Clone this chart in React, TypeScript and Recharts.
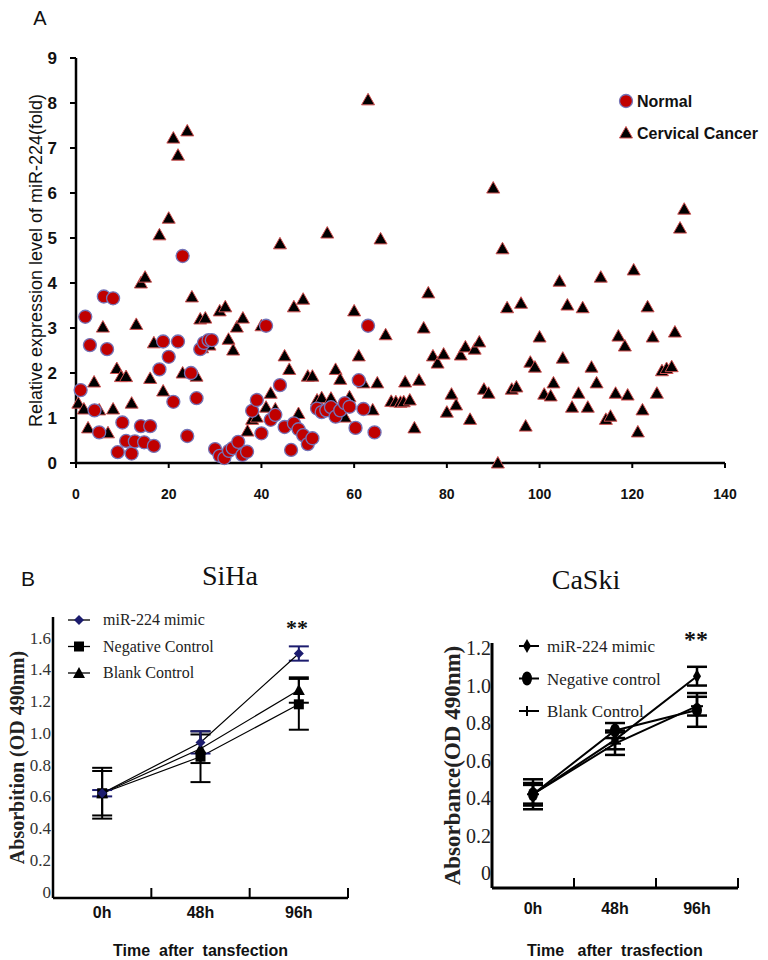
import React from "react";
import { ScatterChart, Scatter, XAxis, YAxis, Legend, LineChart, Line, ErrorBar } from "recharts";

// panel A: relative miR-224 expression, [sample index, fold]
const NORMAL: [number, number][] = [
  [1, 1.62], [2, 3.25], [3, 2.62], [4, 1.17], [5, 0.68], [6, 3.7], [6.7, 2.53], [8, 3.66],
  [9, 0.24], [10, 0.9], [10.8, 0.49], [12, 0.21], [12.7, 0.48], [14, 0.82], [14.7, 0.46],
  [16, 0.82], [16.8, 0.38], [18, 2.08], [18.8, 2.7], [20, 2.36], [21, 1.36], [22, 2.7],
  [23, 4.6], [24, 0.6], [24.8, 2.0], [26, 1.44], [26.8, 2.53], [27.6, 2.67], [28.6, 2.73],
  [29.3, 2.73], [30, 0.31], [31, 0.16], [32, 0.11], [33, 0.27], [33.8, 0.33], [35, 0.47],
  [35.9, 0.18], [36.9, 0.25], [38, 1.16], [39, 1.4], [40, 0.66], [41, 3.05], [42, 0.96],
  [43, 1.07], [44, 1.73], [45, 0.8], [46.4, 0.29], [47, 0.88], [48, 0.75], [49, 0.62],
  [50, 0.42], [51, 0.55], [52, 1.21], [53, 1.13], [54, 1.17], [55, 1.24], [56, 1.03],
  [57, 1.17], [58, 1.33], [59, 1.25], [60.3, 0.78], [61, 1.84], [62, 1.2], [63, 3.05], [64.4, 0.68],
];

const CANCER: [number, number][] = [
  [0.5, 1.33], [1.7, 1.2], [2.6, 0.78], [3.9, 1.8], [5, 1.18], [5.8, 3.02], [6.9, 0.67], [8, 1.2],
  [8.8, 2.1], [9.7, 1.92], [10.8, 1.92], [12, 1.33], [13, 3.08], [14, 4.0], [14.9, 4.13], [16, 1.88],
  [16.8, 2.67], [18, 5.07], [18.8, 1.6], [20, 5.44], [21, 7.22], [22, 6.84], [24, 7.38], [23, 2.0],
  [25, 3.69], [26, 1.93], [26.8, 3.2], [27.9, 3.22], [28.8, 2.62], [27.2, 2.56], [31, 3.38],
  [32.2, 3.47], [32.9, 2.75], [33.9, 2.51], [34.7, 3.02], [36, 3.22], [37, 0.71], [38, 0.97],
  [39, 1.02], [40, 3.05], [41, 1.24], [42, 1.55], [43, 1.2], [44, 4.87], [45, 2.38], [46, 2.08],
  [47, 3.47], [48, 1.1], [49, 3.64], [50, 1.93], [51, 1.93], [52, 1.4], [53, 1.45], [54.2, 5.11],
  [55, 1.44], [56, 2.08], [57, 1.86], [58, 1.02], [59, 1.47], [60, 3.38], [61, 2.38], [62, 1.78],
  [63, 8.07], [64, 1.18], [65, 1.78], [65.7, 4.98], [66.8, 2.85], [68, 1.37], [69, 1.36],
  [70, 1.35], [70.7, 1.36], [71, 1.8], [72, 1.4], [73, 0.78], [74, 1.84], [75, 3.0], [76, 3.78],
  [77, 2.38], [78, 2.22], [79.3, 2.42], [80, 1.13], [81, 1.53], [82, 1.29], [83, 2.4], [84, 2.58],
  [85, 0.97], [86, 2.53], [87, 2.69], [88, 1.64], [89, 1.55], [90, 6.11], [91, 0.0], [92, 4.76],
  [93, 3.45], [94, 1.64], [95, 1.69], [96, 3.55], [97, 0.82], [98, 2.24], [99, 2.13], [100, 2.8],
  [101, 1.53], [102.4, 1.49], [103, 1.78], [104.3, 4.04], [105, 2.33], [106, 3.51], [107, 1.24],
  [108.4, 1.55], [109.3, 3.45], [110.4, 1.24], [111.2, 2.13], [112.3, 1.78], [113.2, 4.13],
  [114.3, 0.97], [115.3, 1.04], [116.4, 1.55], [117, 2.82], [118.4, 2.6], [119, 1.51],
  [120.3, 4.29], [121.2, 0.69], [122.2, 1.18], [123.3, 3.47], [124.4, 2.8], [125.3, 1.55],
  [126.4, 2.05], [127.4, 2.1], [128.5, 2.14], [129.2, 2.91], [130.3, 5.22], [131.2, 5.64],
];

const A_X_TICKS = [0, 20, 40, 60, 80, 100, 120, 140];
const A_Y_TICKS = [0, 1, 2, 3, 4, 5, 6, 7, 8, 9];

// panel B: proliferation (OD 490nm)
const TIMES = ["0h", "48h", "96h"];
const SERIES_SIHA = ["miR-224 mimic", "Negative Control", "Blank Control"];
const SERIES_CASKI = ["miR-224 mimic", "Negative control", "Blank Control"];

const SIHA_MIMIC = [0.62, 0.94, 1.5];
const SIHA_MIMIC_ERR = [0.02, 0.07, 0.045];
const SIHA_NEG = [0.62, 0.85, 1.18];
const SIHA_NEG_ERR = [0.16, 0.16, 0.16];
const SIHA_BLANK = [0.62, 0.9, 1.27];
const SIHA_BLANK_ERR = [0.14, 0.09, 0.08];

const CASKI_MIMIC = [0.42, 0.71, 1.05];
const CASKI_MIMIC_ERR = [0.05, 0.05, 0.05];
const CASKI_NEG = [0.42, 0.76, 0.87];
const CASKI_NEG_ERR = [0.08, 0.04, 0.09];
const CASKI_BLANK = [0.42, 0.69, 0.89];
const CASKI_BLANK_ERR = [0.06, 0.06, 0.05];

const B_Y_TICKS_SIHA = [0, 0.2, 0.4, 0.6, 0.8, 1.0, 1.2, 1.4, 1.6];
const B_Y_TICKS_CASKI = [0, 0.2, 0.4, 0.6, 0.8, 1.0, 1.2];
const B_X_TICKS = [0.5, 1, 1.5, 2, 2.5, 3];

const SANS = "'Liberation Sans', Arial, sans-serif";
const SERIF = "'Liberation Serif', 'Times New Roman', serif";

const normalData = NORMAL.map(([x, y]) => ({ x, y }));
const cancerData = CANCER.map(([x, y]) => ({ x, y }));

const sihaData = TIMES.map((t, i) => ({
  x: i + 0.5,
  time: t,
  mimic: SIHA_MIMIC[i], mimicErr: SIHA_MIMIC_ERR[i],
  neg: SIHA_NEG[i], negErr: SIHA_NEG_ERR[i],
  blank: SIHA_BLANK[i], blankErr: SIHA_BLANK_ERR[i],
}));

const caskiData = TIMES.map((t, i) => ({
  x: i + 0.5,
  time: t,
  mimic: CASKI_MIMIC[i], mimicErr: CASKI_MIMIC_ERR[i],
  neg: CASKI_NEG[i], negErr: CASKI_NEG_ERR[i],
  blank: CASKI_BLANK[i], blankErr: CASKI_BLANK_ERR[i],
}));

// ---- marker shapes ----
const RedCircle = ({ cx, cy }: any) => (
  <circle cx={cx} cy={cy} r={6.5} fill="#c00000" stroke="#7474b8" strokeWidth={1.3} />
);
const BlackTriangle = ({ cx, cy }: any) => (
  <path d={`M${cx},${cy - 6.5} L${cx + 6.5},${cy + 5} L${cx - 6.5},${cy + 5} Z`} fill="#000" stroke="#d05050" strokeWidth={1} />
);

const Diamond = ({ cx, cy, w = 5, h = 5, fill = "#000" }: any) => (
  <path d={`M${cx},${cy - h} L${cx + w},${cy} L${cx},${cy + h} L${cx - w},${cy} Z`} fill={fill} />
);
const Square = ({ cx, cy }: any) => <rect x={cx - 5} y={cy - 5} width={10} height={10} fill="#000" />;
const Tri = ({ cx, cy }: any) => (
  <path d={`M${cx},${cy - 6} L${cx + 6},${cy + 5} L${cx - 6},${cy + 5} Z`} fill="#000" />
);
const Oval = ({ cx, cy }: any) => <ellipse cx={cx} cy={cy} rx={5} ry={7} fill="#000" />;
const Plus = ({ cx, cy }: any) => (
  <g stroke="#000" strokeWidth={2}>
    <line x1={cx - 6} x2={cx + 6} y1={cy} y2={cy} />
    <line x1={cx} x2={cx} y1={cy - 5} y2={cy + 5} />
  </g>
);

const SIHA_MARKERS = [
  (cx: number, cy: number) => <Diamond cx={cx} cy={cy} w={5} h={5} fill="#1c1c6e" />,
  (cx: number, cy: number) => <Square cx={cx} cy={cy} />,
  (cx: number, cy: number) => <Tri cx={cx} cy={cy} />,
];
const CASKI_MARKERS = [
  (cx: number, cy: number) => <Diamond cx={cx} cy={cy} w={4} h={7} />,
  (cx: number, cy: number) => <Oval cx={cx} cy={cy} />,
  (cx: number, cy: number) => <Plus cx={cx} cy={cy} />,
];

// x axis of panel B: tick marks between time points, labels at the centres
const makeTimeTick = (labelDy: number) => (props: any) => {
  const { x, y, payload } = props;
  const v = payload.value;
  if (Number.isInteger(v)) {
    return <line x1={x} x2={x} y1={y} y2={y - 10} stroke="#000" strokeWidth={2} />;
  }
  return (
    <text x={x} y={y + labelDy} textAnchor="middle" fontFamily={SANS} fontWeight="bold" fontSize={16} fill="#111">
      {TIMES[Math.floor(v)]}
    </text>
  );
};

const ScatterLegend = () => (
  <svg width={150} height={52}>
    <RedCircle cx={8} cy={9} />
    <text x={19} y={15} fontFamily={SANS} fontWeight="bold" fontSize={16} fill="#111">Normal</text>
    <BlackTriangle cx={8} cy={41} />
    <text x={19} y={47} fontFamily={SANS} fontWeight="bold" fontSize={16} fill="#111">Cervical Cancer</text>
  </svg>
);

const SihaLegend = () => (
  <svg width={200} height={80}>
    {SERIES_SIHA.map((name, i) => (
      <g key={name}>
        <line x1={0} x2={22} y1={10 + i * 26.5} y2={10 + i * 26.5} stroke="#000" strokeWidth={1.3} />
        {SIHA_MARKERS[i](11, 10 + i * 26.5)}
        <text x={35} y={15 + i * 26.5} fontFamily={SERIF} fontSize={16} fill="#222">{name}</text>
      </g>
    ))}
  </svg>
);

const CaskiLegend = () => (
  <svg width={220} height={90}>
    {SERIES_CASKI.map((name, i) => (
      <g key={name}>
        <line x1={0} x2={20} y1={10 + i * 32.5} y2={10 + i * 32.5} stroke="#000" strokeWidth={2} />
        {CASKI_MARKERS[i](8, 10 + i * 32.5)}
        <text x={28} y={16 + i * 32.5} fontFamily={SERIF} fontSize={17} fill="#222">{name}</text>
      </g>
    ))}
  </svg>
);

const Txt = ({ x, y, size, family = SANS, weight = "normal", children }: any) => (
  <div
    style={{
      position: "absolute", left: x, top: y, transform: "translate(-50%, -50%)",
      fontFamily: family, fontSize: size, fontWeight: weight, lineHeight: 1, whiteSpace: "pre", color: "#111",
    }}
  >
    {children}
  </div>
);

export default function App() {
  return (
    <div style={{ position: "absolute", left: 0, top: 0, width: 768, height: 960, background: "#fff", overflow: "hidden" }}>
      <Txt x={40} y={18} size={20}>A</Txt>

      <div style={{ position: "absolute", left: 0, top: 0 }}>
        <ScatterChart width={768} height={520} margin={{ top: 58, right: 43, bottom: 27, left: 36 }}>
          <XAxis
            type="number" dataKey="x" domain={[0, 140]} ticks={A_X_TICKS} height={30}
            axisLine={{ stroke: "#000", strokeWidth: 2.5 }} tickLine={{ stroke: "#000", strokeWidth: 2 }}
            tickSize={5} tickMargin={21}
            tick={{ fill: "#111", fontSize: 14, fontWeight: "bold", fontFamily: SANS }}
          />
          <YAxis
            type="number" dataKey="y" domain={[0, 9]} ticks={A_Y_TICKS} width={40}
            axisLine={{ stroke: "#000", strokeWidth: 2.5 }} tickLine={{ stroke: "#000", strokeWidth: 2 }}
            tickSize={6} tickMargin={13}
            tick={{ fill: "#111", fontSize: 17, fontWeight: "bold", fontFamily: SANS }}
            label={{
              value: "Relative expression level of miR-224(fold)", angle: -90, position: "insideLeft", offset: 0,
              style: { textAnchor: "middle", fontFamily: SANS, fontSize: 18, fill: "#111" },
            }}
          />
          <Legend
            layout="horizontal" verticalAlign="middle" align="center"
            wrapperStyle={{ left: 618, top: 92, width: 150 }}
            content={() => <ScatterLegend />}
          />
          <Scatter name="Cervical Cancer" data={cancerData} shape={(p: any) => <BlackTriangle cx={p.cx} cy={p.cy} />} isAnimationActive={false} />
          <Scatter name="Normal" data={normalData} shape={(p: any) => <RedCircle cx={p.cx} cy={p.cy} />} isAnimationActive={false} />
        </ScatterChart>
      </div>

      <Txt x={28} y={578} size={21}>B</Txt>
      <Txt x={230} y={576} size={28} family={SERIF}>SiHa</Txt>
      <Txt x={586} y={580} size={28} family={SERIF}>CaSki</Txt>
      <Txt x={297} y={628} size={22} family={SERIF} weight="bold">**</Txt>
      <Txt x={696} y={639} size={24} family={SERIF} weight="bold">**</Txt>

      <div style={{ position: "absolute", left: 0, top: 560 }}>
        <LineChart width={384} height={400} data={sihaData} margin={{ top: 57, right: 36, bottom: 0, left: 13 }}>
          <XAxis
            type="number" dataKey="x" domain={[0, 3]} ticks={B_X_TICKS} height={62}
            axisLine={{ stroke: "#000", strokeWidth: 2.5 }} tickLine={false} tickSize={0} tickMargin={0}
            tick={makeTimeTick(20)}
            label={{
              value: "Time\u00a0 after\u00a0 tansfection", position: "insideBottom", offset: 4,
              style: { fontFamily: SANS, fontWeight: "bold", fontSize: 16, fill: "#111" },
            }}
          />
          <YAxis
            type="number" domain={[-0.04, 1.73]} ticks={B_Y_TICKS_SIHA} width={40}
            axisLine={{ stroke: "#000", strokeWidth: 2.5 }} tickLine={false} tickSize={0} tickMargin={2}
            tickFormatter={(v: number) => (v === 0 ? "0" : v.toFixed(1))}
            tick={{ fill: "#333", fontSize: 17, fontFamily: SERIF }}
            label={{
              value: "Absorbition (OD 490nm)", angle: -90, position: "insideLeft", offset: 4,
              style: { textAnchor: "middle", fontFamily: SERIF, fontWeight: "bold", fontSize: 20, fill: "#222" },
            }}
          />
          <Legend
            layout="horizontal" verticalAlign="middle" align="center"
            wrapperStyle={{ left: 68, top: 50, width: 200 }}
            content={() => <SihaLegend />}
          />
          <Line dataKey="neg" stroke="#000" strokeWidth={1.2} isAnimationActive={false}
            dot={(p: any) => <g key={`n${p.index}`}>{SIHA_MARKERS[1](p.cx, p.cy)}</g>}>
            <ErrorBar dataKey="negErr" width={10} stroke="#000" strokeWidth={2} direction="y" />
          </Line>
          <Line dataKey="blank" stroke="#000" strokeWidth={1.2} isAnimationActive={false}
            dot={(p: any) => <g key={`b${p.index}`}>{SIHA_MARKERS[2](p.cx, p.cy)}</g>}>
            <ErrorBar dataKey="blankErr" width={10} stroke="#000" strokeWidth={2} direction="y" />
          </Line>
          <Line dataKey="mimic" stroke="#000" strokeWidth={1.2} isAnimationActive={false}
            dot={(p: any) => <g key={`m${p.index}`}>{SIHA_MARKERS[0](p.cx, p.cy)}</g>}>
            <ErrorBar dataKey="mimicErr" width={10} stroke="#1c1c6e" strokeWidth={2} direction="y" />
          </Line>
        </LineChart>
      </div>

      <div style={{ position: "absolute", left: 384, top: 560 }}>
        <LineChart width={384} height={400} data={caskiData} margin={{ top: 83, right: 30, bottom: 0, left: 68 }}>
          <XAxis
            type="number" dataKey="x" domain={[0, 3]} ticks={B_X_TICKS} height={72}
            axisLine={{ stroke: "#000", strokeWidth: 3 }} tickLine={false} tickSize={0} tickMargin={0}
            tick={makeTimeTick(26)}
            label={{
              value: "Time\u00a0\u00a0 after\u00a0 trasfection", position: "insideBottom", offset: 4,
              style: { fontFamily: SANS, fontWeight: "bold", fontSize: 16, fill: "#111" },
            }}
          />
          <YAxis
            type="number" domain={[-0.08, 1.227]} ticks={B_Y_TICKS_CASKI} width={40}
            axisLine={{ stroke: "#000", strokeWidth: 3 }} tickLine={false} tickSize={0} tickMargin={1}
            tickFormatter={(v: number) => (v === 0 ? "0" : v.toFixed(1))}
            tick={{ fill: "#222", fontSize: 20, fontFamily: SERIF }}
            label={{
              value: "Absorbance(OD 490nm)", angle: -90, position: "insideLeft", offset: 0,
              style: { textAnchor: "middle", fontFamily: SERIF, fontWeight: "bold", fontSize: 23, fill: "#222" },
            }}
          />
          <Legend
            layout="horizontal" verticalAlign="middle" align="center"
            wrapperStyle={{ left: 135, top: 76, width: 220 }}
            content={() => <CaskiLegend />}
          />
          <Line dataKey="blank" stroke="#000" strokeWidth={2} isAnimationActive={false}
            dot={(p: any) => <g key={`b${p.index}`}>{CASKI_MARKERS[2](p.cx, p.cy)}</g>}>
            <ErrorBar dataKey="blankErr" width={10} stroke="#000" strokeWidth={2.5} direction="y" />
          </Line>
          <Line dataKey="neg" stroke="#000" strokeWidth={2} isAnimationActive={false}
            dot={(p: any) => <g key={`n${p.index}`}>{CASKI_MARKERS[1](p.cx, p.cy)}</g>}>
            <ErrorBar dataKey="negErr" width={10} stroke="#000" strokeWidth={2.5} direction="y" />
          </Line>
          <Line dataKey="mimic" stroke="#000" strokeWidth={2} isAnimationActive={false}
            dot={(p: any) => <g key={`m${p.index}`}>{CASKI_MARKERS[0](p.cx, p.cy)}</g>}>
            <ErrorBar dataKey="mimicErr" width={10} stroke="#000" strokeWidth={2.5} direction="y" />
          </Line>
        </LineChart>
      </div>
    </div>
  );
}
